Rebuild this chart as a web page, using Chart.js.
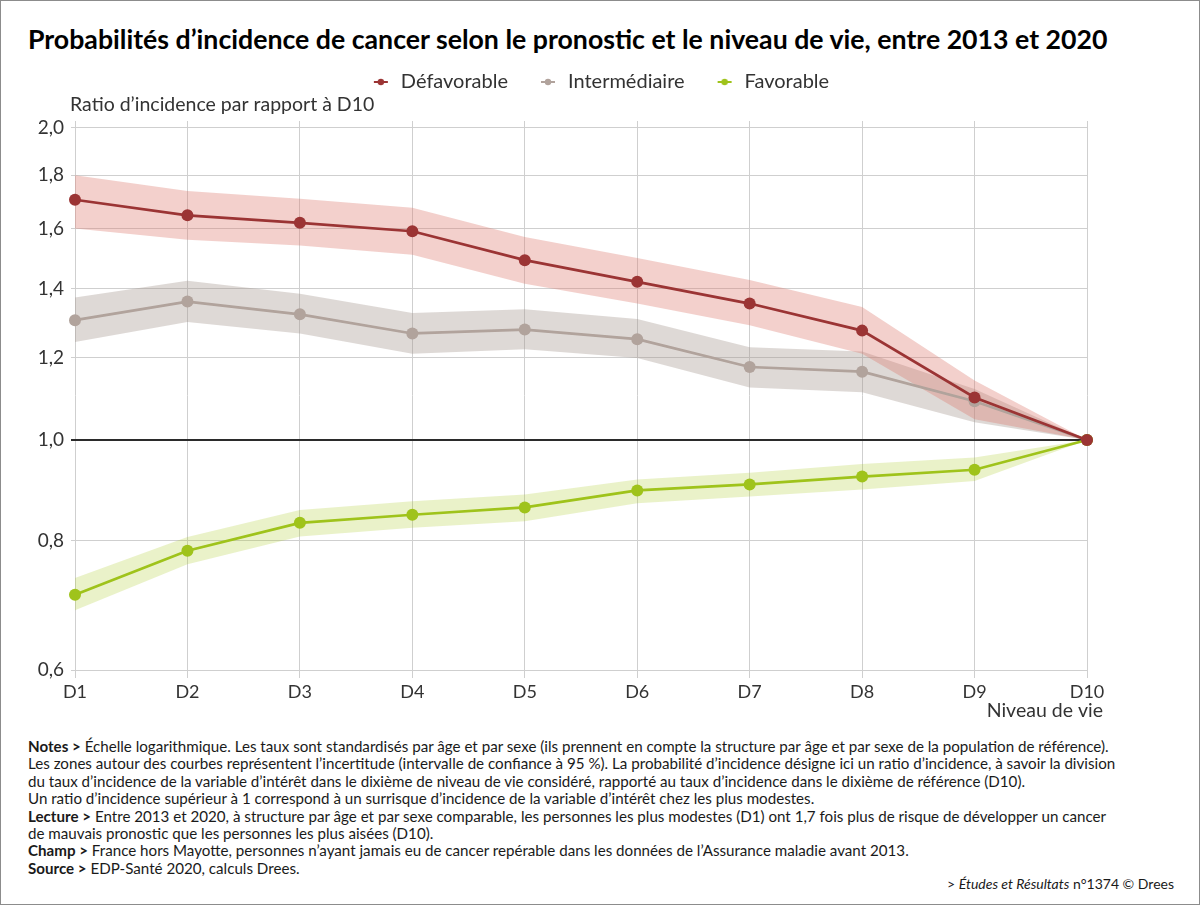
<!DOCTYPE html>
<html lang="fr">
<head>
<meta charset="utf-8">
<title>Probabilités d’incidence de cancer selon le pronostic et le niveau de vie</title>
<script src="https://cdn.jsdelivr.net/npm/chart.js@4.4.1/dist/chart.umd.min.js"></script>
<style>
  html, body { margin: 0; padding: 0; background: #fff; }
  #page {
    position: relative; width: 1200px; height: 905px; box-sizing: border-box;
    border: 1px solid #8c8c8c; overflow: hidden;
    font-family: Lato, "Open Sans", sans-serif; color: #1a1a1a;
  }
  h1 { position: absolute; left: 27px; top: 22px; margin: 0; font-size: 26.7px; line-height: 32px; font-weight: 700; color: #000; white-space: nowrap; }
  #chartBox { position: absolute; left: 0; top: 41px; width: 1198px; height: 680px; }
  #notes { position: absolute; left: 27px; top: 737px; font-size: 15.15px; line-height: 17.4px; white-space: nowrap; }
  #source { position: absolute; right: 25px; top: 874px; font-size: 14px; white-space: nowrap; }
</style>
</head>
<body>
<div id="page">
  <h1>Probabilités d’incidence de cancer selon le pronostic et le niveau de vie, entre 2013 et 2020</h1>
  <div id="chartBox"><canvas id="chart"></canvas></div>
  <div id="notes">
    <b>Notes &gt;</b> Échelle logarithmique. Les taux sont standardisés par âge et par sexe (ils prennent en compte la structure par âge et par sexe de la population de référence).<br>
    Les zones autour des courbes représentent l’incertitude (intervalle de confiance à 95 %). La probabilité d’incidence désigne ici un ratio d’incidence, à savoir la division<br>
    du taux d’incidence de la variable d’intérêt dans le dixième de niveau de vie considéré, rapporté au taux d’incidence dans le dixième de référence (D10).<br>
    Un ratio d’incidence supérieur à 1 correspond à un surrisque d’incidence de la variable d’intérêt chez les plus modestes.<br>
    <b>Lecture &gt;</b> Entre 2013 et 2020, à structure par âge et par sexe comparable, les personnes les plus modestes (D1) ont 1,7 fois plus de risque de développer un cancer<br>
    de mauvais pronostic que les personnes les plus aisées (D10).<br>
    <b>Champ &gt;</b> France hors Mayotte, personnes n’ayant jamais eu de cancer repérable dans les données de l’Assurance maladie avant 2013.<br>
    <b>Source &gt;</b> EDP-Santé 2020, calculs Drees.
  </div>
  <div id="source">&gt; <i>Études et Résultats</i> n°1374 © Drees</div>
</div>

<script>
// Data
const deciles = ['D1', 'D2', 'D3', 'D4', 'D5', 'D6', 'D7', 'D8', 'D9', 'D10'];
const yTicks = [0.6, 0.8, 1.0, 1.2, 1.4, 1.6, 1.8, 2.0];

const defavorable     = [1.705, 1.647, 1.620, 1.590, 1.491, 1.421, 1.354, 1.275, 1.099, 1.0];
const defavorableHaut = [1.800, 1.739, 1.709, 1.675, 1.570, 1.498, 1.427, 1.344, 1.141, 1.0];
const defavorableBas  = [1.600, 1.560, 1.540, 1.509, 1.415, 1.354, 1.290, 1.211, 1.047, 1.0];

const intermediaire     = [1.305, 1.360, 1.322, 1.267, 1.278, 1.251, 1.176, 1.164, 1.090, 1.0];
const intermediaireHaut = [1.372, 1.424, 1.384, 1.326, 1.337, 1.308, 1.229, 1.217, 1.120, 1.0];
const intermediaireBas  = [1.243, 1.300, 1.267, 1.211, 1.223, 1.200, 1.124, 1.112, 1.040, 1.0];

const favorable     = [0.709, 0.782, 0.832, 0.847, 0.861, 0.894, 0.906, 0.922, 0.936, 1.0];
const favorableHaut = [0.736, 0.806, 0.856, 0.873, 0.886, 0.916, 0.930, 0.948, 0.962, 1.0];
const favorableBas  = [0.685, 0.759, 0.807, 0.823, 0.835, 0.869, 0.882, 0.896, 0.913, 1.0];

const yTitle = 'Ratio d’incidence par rapport à D10';
const xTitle = 'Niveau de vie';

const RED = '#9b3434';
const GREY = '#b1a39c';
const GREEN = '#9fc31b';
const FONT = 'Lato, "Open Sans", sans-serif';

// small line + dot used as legend symbol
function makeMarker(color) {
    const c = document.createElement('canvas');
    c.width = 20;
    c.height = 10;
    const g = c.getContext('2d');
    g.strokeStyle = color;
    g.lineWidth = 2;
    g.beginPath();
    g.moveTo(3, 5);
    g.lineTo(17, 5);
    g.stroke();
    g.fillStyle = color;
    g.beginPath();
    g.arc(10, 5, 3.2, 0, Math.PI * 2);
    g.fill();
    return c;
}

function band(label, upper, lower, color, order) {
    return [
        { label: label + ' haut', data: upper, borderWidth: 0, pointRadius: 0, fill: '+1', backgroundColor: color, order: order, band: true },
        { label: label + ' bas', data: lower, borderWidth: 0, pointRadius: 0, fill: false, order: order, band: true }
    ];
}

function line(label, data, color, order) {
    return {
        label: label, data: data, borderColor: color, backgroundColor: color,
        borderWidth: 2.7, pointRadius: 6, pointBorderWidth: 0, pointBackgroundColor: color,
        fill: false, order: order, clip: false, marker: makeMarker(color)
    };
}

const datasets = [
    line('Défavorable', defavorable, RED, 0),
    line('Intermédiaire', intermediaire, GREY, 2),
    line('Favorable', favorable, GREEN, 1),
    ...band('Défavorable', defavorableHaut, defavorableBas, 'rgba(222,120,110,0.35)', 4),
    ...band('Intermédiaire', intermediaireHaut, intermediaireBas, 'rgba(160,145,138,0.35)', 5),
    ...band('Favorable', favorableHaut, favorableBas, 'rgba(170,205,40,0.25)', 3)
];

// leave room between the legend and the plot for the y title,
// and center the legend on the whole figure, not only the plot
const legendGap = {
    id: 'legendGap',
    beforeInit(chart) {
        const fit = chart.legend.fit;
        chart.legend.fit = function () {
            fit.bind(chart.legend)();
            this.height += 19;
        };
    },
    afterLayout(chart) {
        chart.legend.right = chart.width;
        chart.legend.width = chart.width - chart.legend.left;
    }
};

const axisTitles = {
    id: 'axisTitles',
    afterDraw(chart) {
        const { ctx, chartArea } = chart;
        ctx.save();
        ctx.font = '19.5px ' + FONT;
        ctx.fillStyle = '#333';
        ctx.textBaseline = 'middle';
        ctx.textAlign = 'left';
        ctx.fillText(yTitle, chartArea.left - 5, chartArea.top - 16);
        ctx.textAlign = 'right';
        ctx.fillText(xTitle, chartArea.right + 16, chartArea.bottom + 41);
        ctx.restore();
    }
};

new Chart(document.getElementById('chart'), {
    type: 'line',
    data: { labels: deciles, datasets: datasets },
    options: {
        responsive: true,
        maintainAspectRatio: false,
        animation: false,
        events: [],
        layout: { padding: { left: 0, right: 112, top: 0, bottom: 0 } },
        plugins: {
            legend: {
                position: 'top',
                labels: {
                    usePointStyle: true,
                    pointStyleWidth: 20,
                    padding: 30,
                    color: '#333',
                    font: { family: FONT, size: 20 },
                    generateLabels(chart) {
                        return chart.data.datasets
                            .map((ds, i) => ({ ds, i }))
                            .filter(o => !o.ds.band)
                            .map(o => ({
                                text: o.ds.label,
                                pointStyle: o.ds.marker,
                                fillStyle: o.ds.borderColor,
                                strokeStyle: o.ds.borderColor,
                                lineWidth: 0,
                                hidden: false,
                                datasetIndex: o.i,
                                fontColor: '#333'
                            }));
                    }
                }
            },
            tooltip: { enabled: false }
        },
        scales: {
            x: {
                offset: false,
                grid: { color: '#cfcfcf', lineWidth: 1, tickLength: 8 },
                border: { color: '#cfcfcf' },
                ticks: { color: '#333', padding: 3, font: { family: FONT, size: 18 } },
                afterFit(scale) { scale.height = 52; }
            },
            y: {
                type: 'logarithmic',
                min: 0.6,
                max: 2.031,
                border: { display: false },
                grid: {
                    tickLength: 4,
                    color: ctx => (ctx.tick && ctx.tick.value === 1 ? '#2b2b2b' : '#cfcfcf'),
                    lineWidth: ctx => (ctx.tick && ctx.tick.value === 1 ? 2 : 1)
                },
                afterBuildTicks(scale) {
                    scale.ticks = yTicks.map(v => ({ value: v, major: false }));
                },
                ticks: {
                    color: '#333',
                    padding: 7,
                    font: { family: FONT, size: 19 },
                    callback: v => v.toFixed(1).replace('.', ',')
                },
                afterFit(scale) { scale.width = 74; }
            }
        }
    },
    plugins: [legendGap, axisTitles]
});
</script>
</body>
</html>
